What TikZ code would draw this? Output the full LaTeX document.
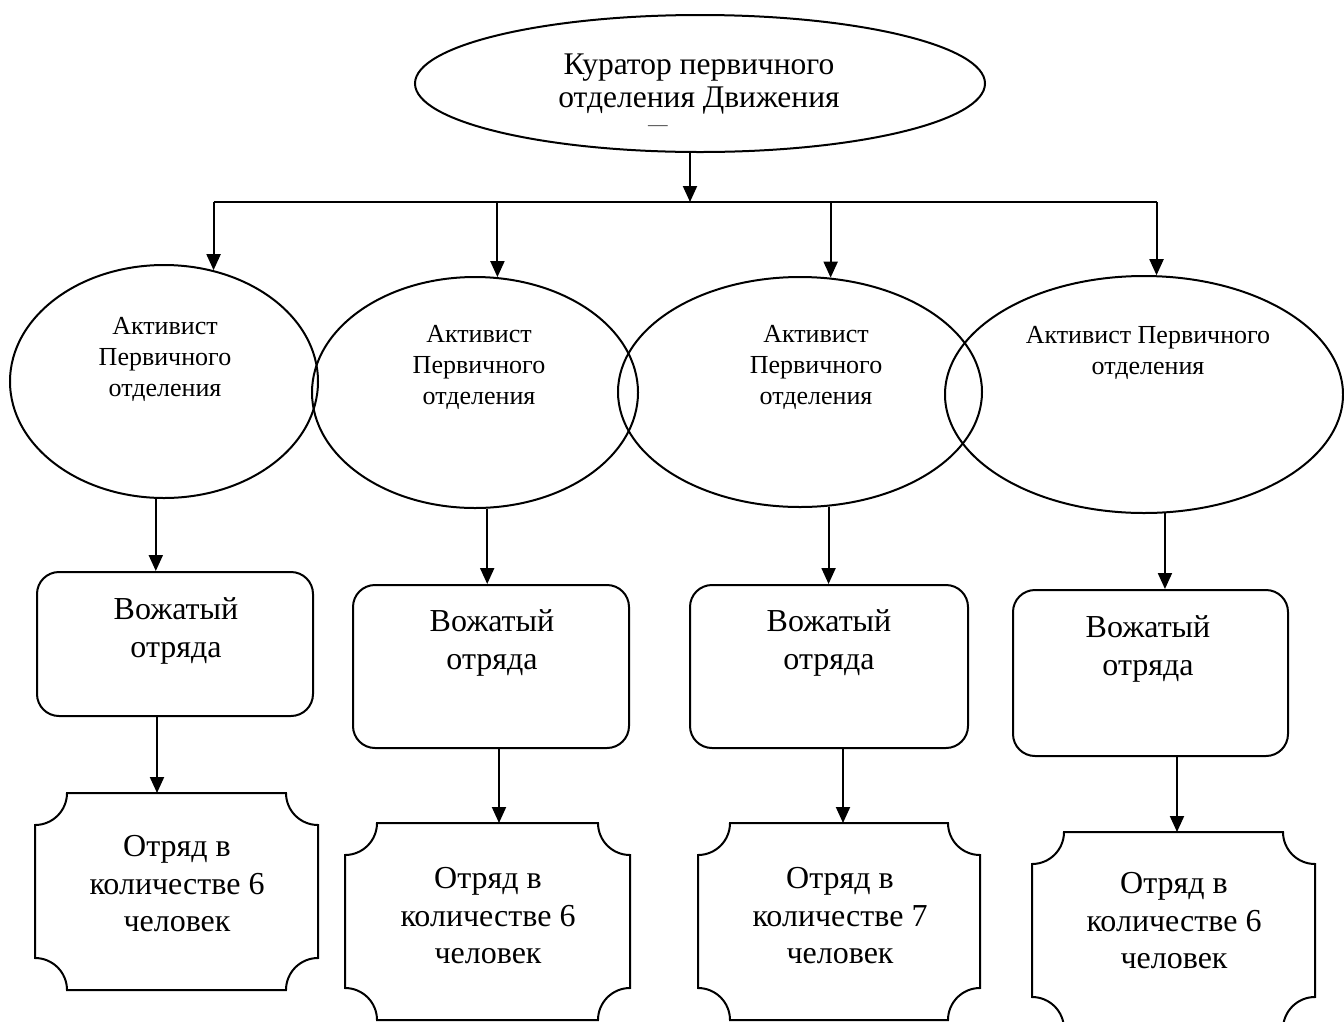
\documentclass[tikz,border=0pt]{standalone}
\usepackage{fontspec}
\setmainfont{Liberation Serif}
\usetikzlibrary{shapes.geometric,arrows.meta}
\newcommand\plaqueborder[2]{%
  \draw[line] ([xshift=#2]#1.north west) -- ([xshift=-#2]#1.north east)
    arc[start angle=180,end angle=270,radius=#2]
    -- ([yshift=#2]#1.south east)
    arc[start angle=90,end angle=180,radius=#2]
    -- ([xshift=#2]#1.south west)
    arc[start angle=0,end angle=90,radius=#2]
    -- ([yshift=-#2]#1.north west)
    arc[start angle=270,end angle=360,radius=#2] -- cycle;}
\begin{document}
\begin{tikzpicture}[x=1pt,y=1pt,
  line/.style={line width=2pt},
  arr/.style={line width=2pt,-{Triangle[length=16pt,width=14pt]}},
  oval/.style={ellipse,draw,line width=2pt,inner sep=0pt},
  rbox/.style={draw,line width=2pt,rounded corners=22pt,inner sep=0pt},
  plq/.style={inner sep=0pt,outer sep=0pt},
  lbl/.style={align=center,inner sep=0pt},
  big/.style={font=\fontsize{32}{37.5}\selectfont},
  mid/.style={font=\fontsize{31.5}{33}\selectfont},
  sml/.style={font=\fontsize{26}{31}\selectfont}]
\useasboundingbox (0,0) rectangle (1344,-1021);

% top
\node[oval,minimum width=570pt,minimum height=137pt] (top) at (700,-83.5) {};
\node[lbl,mid] (toptxt) at (699,-84) {Куратор первичного\\отделения Движения};
\node[lbl,font=\fontsize{14}{14}\selectfont,text height=4pt,text depth=0pt,xscale=1.4] (dash) at (658,-127) {—};

% activists
\node[oval,minimum width=308pt,minimum height=233pt] (e1) at (164,-381.5) {};
\node[oval,minimum width=326pt,minimum height=231pt] (e2) at (475,-392.5) {};
\node[oval,minimum width=364pt,minimum height=230pt] (e3) at (800,-392) {};
\node[oval,minimum width=398pt,minimum height=237pt] (e4) at (1144,-394.5) {};
\node[lbl,sml] (t1) at (165,-359) {Активист\\Первичного\\отделения};
\node[lbl,sml] (t2) at (479,-367) {Активист\\Первичного\\отделения};
\node[lbl,sml] (t3) at (816,-367) {Активист\\Первичного\\отделения};
\node[lbl,sml] (t4) at (1148,-353) {Активист Первичного\\отделения};

% counsellors
\node[rbox,minimum width=276pt,minimum height=144pt] (b1) at (175,-644) {};
\node[rbox,minimum width=276pt,minimum height=163pt] (b2) at (491,-666.5) {};
\node[rbox,minimum width=278pt,minimum height=163pt] (b3) at (829,-666.5) {};
\node[rbox,minimum width=275pt,minimum height=166pt] (b4) at (1150.5,-673) {};
\node[lbl,big] (v1) at (176,-631) {Вожатый\\отряда};
\node[lbl,big] (v2) at (492,-643) {Вожатый\\отряда};
\node[lbl,big] (v3) at (829,-643) {Вожатый\\отряда};
\node[lbl,big] (v4) at (1148,-649) {Вожатый\\отряда};

% squads
\node[plq,minimum width=283pt,minimum height=197pt] (p1) at (176.5,-891.5) {};
\node[plq,minimum width=285pt,minimum height=197pt] (p2) at (487.5,-921.5) {};
\node[plq,minimum width=282pt,minimum height=197pt] (p3) at (839,-921.5) {};
\node[plq,minimum width=283pt,minimum height=197pt] (p4) at (1173.5,-930.5) {};
\plaqueborder{p1}{32pt}
\plaqueborder{p2}{32pt}
\plaqueborder{p3}{32pt}
\plaqueborder{p4}{32pt}
\node[lbl,big] (q1) at (177,-884) {Отряд в\\количестве 6\\человек};
\node[lbl,big] (q2) at (488,-916) {Отряд в\\количестве 6\\человек};
\node[lbl,big] (q3) at (840,-916) {Отряд в\\количестве 7\\человек};
\node[lbl,big] (q4) at (1174,-921) {Отряд в\\количестве 6\\человек};

% connectors
\coordinate (bus) at (690,-202);
\draw[arr] (top.south -| bus) -- (bus);
\coordinate (c1) at (e1.66.6 |- bus);
\coordinate (c2) at (e2.79.1 |- bus);
\coordinate (c3) at (e3.75.7 |- bus);
\coordinate (c4) at (e4.84.7 |- bus);
\draw[line] (c1) -- (c4);
\draw[arr] (c1) -- (e1.66.6);
\draw[arr] (c2) -- (e2.79.1);
\draw[arr] (c3) -- (e3.75.7);
\draw[arr] (c4) -- (e4.84.7);

\draw[arr] (e1.266.6) -- (e1.266.6 |- b1.north);
\draw[arr] (e2.276.9) -- (e2.276.9 |- b2.north);
\draw[arr] (e3.284.8) -- (e3.284.8 |- b3.north);
\draw[arr] (e4.280.1) -- (e4.280.1 |- b4.north);

\draw[arr] ([xshift=-18pt]b1.south) -- ([xshift=-18pt]b1.south |- p1.north);
\draw[arr] ([xshift=8pt]b2.south) -- ([xshift=8pt]b2.south |- p2.north);
\draw[arr] ([xshift=14pt]b3.south) -- ([xshift=14pt]b3.south |- p3.north);
\draw[arr] ([xshift=26.5pt]b4.south) -- ([xshift=26.5pt]b4.south |- p4.north);
\end{tikzpicture}
\end{document}
